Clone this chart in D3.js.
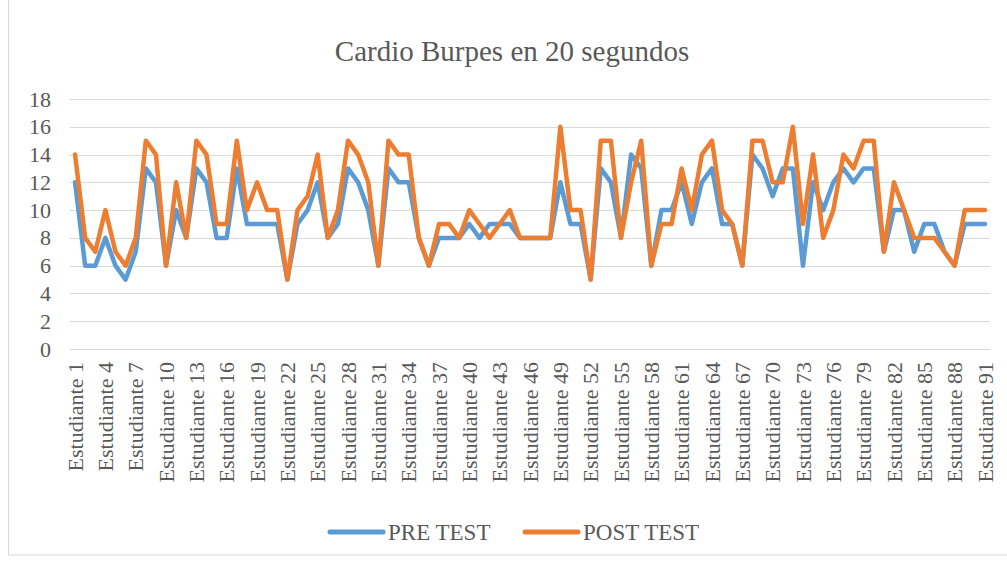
<!DOCTYPE html>
<html>
<head>
<meta charset="utf-8">
<script src="https://cdn.jsdelivr.net/npm/d3@7"></script>
<style>
  body { margin: 0; background: #fff; }
</style>
</head>
<body>
<div id="chart"></div>
<script>
// Cardio Burpes en 20 segundos - pre vs post test
const students = d3.range(1, 92).map(i => `Estudiante ${i}`);

const preTest = [12, 6, 6, 8, 6, 5, 7, 13, 12, 6, 10, 8, 13, 12, 8, 8, 13, 9, 9, 9,
    9, 5, 9, 10, 12, 8, 9, 13, 12, 10, 6, 13, 12, 12, 8, 6, 8, 8, 8, 9,
    8, 9, 9, 9, 8, 8, 8, 8, 12, 9, 9, 5, 13, 12, 8, 14, 13, 6, 10, 10,
    12, 9, 12, 13, 9, 9, 6, 14, 13, 11, 13, 13, 6, 12, 10, 12, 13, 12, 13, 13,
    7, 10, 10, 7, 9, 9, 7, 6, 9, 9, 9];

const postTest = [14, 8, 7, 10, 7, 6, 8, 15, 14, 6, 12, 8, 15, 14, 9, 9, 15, 10, 12, 10,
    10, 5, 10, 11, 14, 8, 10, 15, 14, 12, 6, 15, 14, 14, 8, 6, 9, 9, 8, 10,
    9, 8, 9, 10, 8, 8, 8, 8, 16, 10, 10, 5, 15, 15, 8, 12, 15, 6, 9, 9,
    13, 10, 14, 15, 10, 9, 6, 15, 15, 12, 12, 16, 9, 14, 8, 10, 14, 13, 15, 15,
    7, 12, 10, 8, 8, 8, 7, 6, 10, 10, 10];

const yTicks = [0, 2, 4, 6, 8, 10, 12, 14, 16, 18];
const seriesNames = ["PRE TEST", "POST TEST"];
const colors = ["#5b9bd5", "#ed7d31"];

const width = 1007;
const height = 563;
const textColor = "#595959";
const font = "'Liberation Serif', 'Times New Roman', serif";

const svg = d3.select("#chart").append("svg")
    .attr("width", width)
    .attr("height", height)
    .style("font-family", font);

// chart frame
svg.append("rect")
    .attr("x", 8.5)
    .attr("y", -2)
    .attr("width", width + 10)
    .attr("height", 557)
    .attr("fill", "none")
    .attr("stroke", "#d9d9d9");

svg.append("text")
    .attr("x", 512)
    .attr("y", 61)
    .attr("text-anchor", "middle")
    .attr("fill", textColor)
    .style("font-size", "29px")
    .text("Cardio Burpes en 20 segundos");

const x = d3.scaleBand()
    .domain(students)
    .range([70, 990])
    .padding(0);

const y = d3.scaleLinear()
    .domain([0, 18])
    .range([349, 99]);

const cx = d => x(d) + x.bandwidth() / 2;

// gridlines
svg.append("g")
    .selectAll("line")
    .data(yTicks)
    .join("line")
    .attr("x1", 70)
    .attr("x2", 990)
    .attr("y1", d => Math.round(y(d)) + 0.5)
    .attr("y2", d => Math.round(y(d)) + 0.5)
    .attr("stroke", "#d9d9d9")
    .attr("stroke-width", 1);

// y axis labels
const yAxis = svg.append("g")
    .attr("transform", "translate(70,0)")
    .call(d3.axisLeft(y).tickValues(yTicks).tickSize(0).tickPadding(19));
yAxis.select(".domain").remove();
yAxis.selectAll("text")
    .attr("fill", textColor)
    .style("font-family", font)
    .style("font-size", "22px");

// x axis labels
const xAxis = svg.append("g")
    .attr("transform", "translate(0,349)")
    .call(d3.axisBottom(x).tickValues(students.filter((d, i) => i % 3 === 0)).tickSize(0));
xAxis.select(".domain").remove();
xAxis.selectAll("text")
    .attr("fill", textColor)
    .style("font-family", font)
    .style("font-size", "22px")
    .attr("text-anchor", "end")
    .attr("dy", "0.35em")
    .attr("transform", "translate(0,13) rotate(-90)")
    .attr("x", 0)
    .attr("y", 0);

// lines
const line = d3.line()
    .x((d, i) => cx(students[i]))
    .y(d => y(d));

[preTest, postTest].forEach((values, k) => {
    svg.append("path")
        .datum(values)
        .attr("fill", "none")
        .attr("stroke", colors[k])
        .attr("stroke-width", 4.5)
        .attr("stroke-linejoin", "round")
        .attr("stroke-linecap", "round")
        .attr("d", line);
});

// legend
const legendX = [330, 525];
const legend = svg.append("g")
    .selectAll("g")
    .data(seriesNames)
    .join("g")
    .attr("transform", (d, i) => `translate(${legendX[i]},532)`);

legend.append("line")
    .attr("x1", 0)
    .attr("x2", 53)
    .attr("stroke", (d, i) => colors[i])
    .attr("stroke-width", 5)
    .attr("stroke-linecap", "round");

legend.append("text")
    .attr("x", 58)
    .attr("dy", "0.35em")
    .attr("fill", textColor)
    .style("font-size", "23px")
    .text(d => d);
</script>
</body>
</html>
